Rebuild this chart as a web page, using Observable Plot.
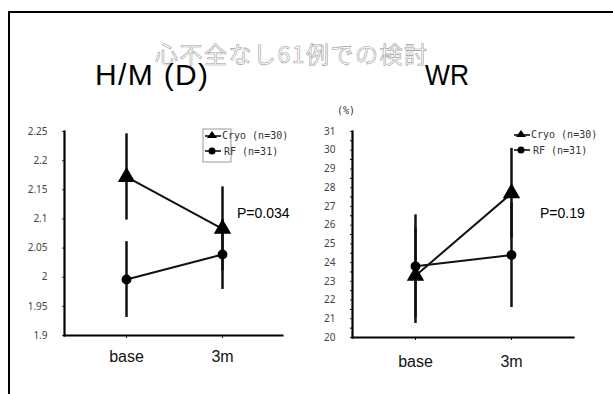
<!DOCTYPE html>
<html>
<head>
<meta charset="utf-8">
<script src="https://cdn.jsdelivr.net/npm/d3@7"></script>
<script src="https://cdn.jsdelivr.net/npm/@observablehq/plot@0.6"></script>
<style>
  html, body { margin: 0; padding: 0; background: #fff; }
  #wrap { position: relative; width: 613px; height: 394px; overflow: hidden; background: #fff; }
  #wrap > * { position: absolute; }
  #frame { left: 8px; top: 11px; width: 620px; height: 400px; border-left: 2px solid #000; border-top: 2px solid #000; box-sizing: border-box; }
  .plot text { font-family: "DejaVu Sans Mono", monospace; }
</style>
</head>
<body>
<div id="wrap">
  <div id="frame"></div>
</div>
<script>
// ---- data ----
const times = ["base", "3m"];
const groups = ["Cryo (n=30)", "RF (n=31)"];

// H/M (D)
const hmCryoMean = [2.172, 2.083];
const hmCryoErr  = [0.074, 0.072];
const hmRfMean   = [1.996, 2.039];
const hmRfErr    = [0.065, 0.060];
const hmTicks    = [1.9, 1.95, 2, 2.05, 2.1, 2.15, 2.2, 2.25];
const hmP        = "P=0.034";

// WR (%)
const wrCryoMean = [23.3, 27.7];
const wrCryoErr  = [2.55, 2.4];
const wrRfMean   = [23.8, 24.4];
const wrRfErr    = [2.75, 2.8];
const wrTicks    = [20, 21, 22, 23, 24, 25, 26, 27, 28, 29, 30, 31];
const wrMinorTicks = [20.5, 21.5, 22.5, 23.5, 24.5, 25.5, 26.5, 27.5, 28.5, 29.5, 30.5];
const wrP        = "P=0.19";

function rows(cryoMean, cryoErr, rfMean, rfErr) {
  const out = [];
  times.forEach((t, i) => {
    out.push({time: t, group: groups[0], mean: cryoMean[i], lo: cryoMean[i] - cryoErr[i], hi: cryoMean[i] + cryoErr[i]});
    out.push({time: t, group: groups[1], mean: rfMean[i], lo: rfMean[i] - rfErr[i], hi: rfMean[i] + rfErr[i]});
  });
  return out;
}

function panel({data, ticks, minor, yDomain, width, height, margins, xRange, labelPad}) {
  const marks = [
    Plot.axisY({ticks, tickSize: 2, tickPadding: 15, fontSize: 10, tickFormat: d => String(d), color: "#444"}),
    Plot.axisX({tickSize: 3, tickPadding: labelPad, fontSize: 16, fontFamily: "Liberation Sans, Arial, sans-serif", color: "#111"}),
    Plot.ruleX(data, {x: "time", y1: "lo", y2: "hi", stroke: "#111", strokeWidth: 2.5}),
    Plot.line(data, {x: "time", y: "mean", z: "group", stroke: "#111", strokeWidth: 2}),
    Plot.dot(data.filter(d => d.group === groups[0]), {x: "time", y: "mean", symbol: "triangle", r: 5.5, fill: "#000", stroke: "#000"}),
    Plot.dot(data.filter(d => d.group === groups[1]), {x: "time", y: "mean", symbol: "circle", r: 4.2, fill: "#000", stroke: "#000"}),
    Plot.frame({anchor: "left", stroke: "#000", strokeWidth: 2.2}),
    Plot.frame({anchor: "bottom", stroke: "#000", strokeWidth: 2.2})
  ];
  if (minor) marks.splice(1, 0, Plot.axisY({ticks: minor, tickSize: 2, tickFormat: () => ""}));
  return Plot.plot({
    width, height,
    marginTop: margins[0], marginRight: margins[1], marginBottom: margins[2], marginLeft: margins[3],
    style: {background: "transparent", overflow: "visible"},
    x: {type: "point", domain: times, range: xRange, padding: 0, label: null},
    y: {domain: yDomain, label: null},
    marks
  });
}

const wrap = document.getElementById("wrap");

const left = panel({
  data: rows(hmCryoMean, hmCryoErr, hmRfMean, hmRfErr),
  ticks: hmTicks, yDomain: [1.9, 2.25],
  width: 306, height: 394, margins: [131, 24, 59, 64], xRange: [126, 222], labelPad: 12
});
left.style.left = "0px"; left.style.top = "0px";
wrap.appendChild(left);

const right = panel({
  data: rows(wrCryoMean, wrCryoErr, wrRfMean, wrRfErr),
  ticks: wrTicks, minor: wrMinorTicks, yDomain: [20, 31],
  width: 307, height: 394, margins: [131, 40, 57, 46], xRange: [109, 205], labelPad: 15
});
right.style.left = "306px"; right.style.top = "0px";
wrap.appendChild(right);

// ---- overlay: titles, legends, annotations ----
const ns = "http://www.w3.org/2000/svg";
const ov = document.createElementNS(ns, "svg");
ov.setAttribute("width", 613); ov.setAttribute("height", 394);
ov.style.left = "0px"; ov.style.top = "0px"; ov.style.pointerEvents = "none";
wrap.appendChild(ov);

function txt(s, x, y, attrs) {
  const t = document.createElementNS(ns, "text");
  t.textContent = s;
  t.setAttribute("x", x); t.setAttribute("y", y);
  for (const k in attrs) t.setAttribute(k, attrs[k]);
  ov.appendChild(t);
  return t;
}
function el(name, attrs) {
  const e = document.createElementNS(ns, name);
  for (const k in attrs) e.setAttribute(k, attrs[k]);
  ov.appendChild(e);
  return e;
}

const sans = "Liberation Sans, Arial, sans-serif";
const mono = "DejaVu Sans Mono, monospace";
txt("心不全なし61例での検討", 155, 63, {"font-family": "Noto Sans CJK JP", "font-size": 23, fill: "#fff", stroke: "#a0a0a0", "stroke-width": 0.6, textLength: 272, lengthAdjust: "spacing"});
txt("H/M (D)", 95, 85, {"font-family": sans, "font-size": 30, fill: "#000", textLength: 113, lengthAdjust: "spacing"});
txt("WR", 425, 85, {"font-family": sans, "font-size": 30, fill: "#000", textLength: 44, lengthAdjust: "spacingAndGlyphs"});
txt("(%)", 337, 114, {"font-family": mono, "font-size": 10, fill: "#333"});

txt(hmP, 237, 218, {"font-family": sans, "font-size": 14, fill: "#000"});
txt(wrP, 540, 218, {"font-family": sans, "font-size": 14, fill: "#000"});

// legends
function legend(x0, y0, box) {
  if (box) el("rect", {x: x0 - 9, y: y0 - 6, width: 28, height: 33, fill: "none", stroke: "#999", "stroke-width": 1});
  el("line", {x1: x0 - 7, x2: x0 + 9, y1: y0 + 1, y2: y0 + 1, stroke: "#000", "stroke-width": 1.5});
  el("path", {d: `M${x0},${y0 - 4} L${x0 + 5},${y0 + 3} L${x0 - 5},${y0 + 3} Z`, fill: "#000"});
  txt(groups[0], x0 + 10, y0 + 4, {"font-family": mono, "font-size": 10, fill: "#333"});
  el("line", {x1: x0 - 7, x2: x0 + 9, y1: y0 + 16, y2: y0 + 16, stroke: "#000", "stroke-width": 1.5});
  el("circle", {cx: x0, cy: y0 + 16, r: 3.5, fill: "#000"});
  txt(groups[1], x0 + 12, y0 + 20, {"font-family": mono, "font-size": 10, fill: "#333"});
}
legend(212, 135, true);
legend(521, 134, false);
</script>
</body>
</html>
